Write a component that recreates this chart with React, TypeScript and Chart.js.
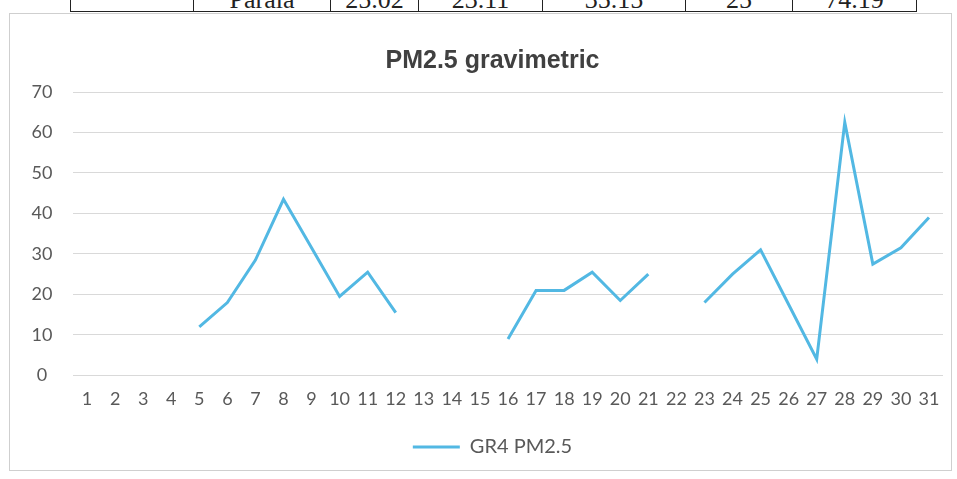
import React, { useEffect, useRef } from "react";
import { Chart, registerables } from "chart.js";

Chart.register(...registerables);

// ---- data ----
const dayLabels = [
  "1", "2", "3", "4", "5", "6", "7", "8", "9", "10",
  "11", "12", "13", "14", "15", "16", "17", "18", "19", "20",
  "21", "22", "23", "24", "25", "26", "27", "28", "29", "30", "31",
];

const gr4Pm25: (number | null)[] = [
  null, null, null, null, 12, 18, 28.5, 43.5, 31.5, 19.5,
  25.5, 15.5, null, null, null, 9, 21, 21, 25.5, 18.5,
  25, null, 18, 25, 31, 17.5, 4, 62.5, 27.5, 31.5, 39,
];

const seriesName = "GR4 PM2.5";
const chartTitle = "PM2.5 gravimetric";
const yMin = 0;
const yMax = 70;
const yStep = 10;

// fragment of the table row above the chart (scanned page)
const tableTexts = ["", "Parala", "25.02", "23.11", "35.15", "25", "74.19"];
const tableEdges = [70, 193, 330, 418, 542, 685, 792, 917];

const LINE_COLOR = "#52b8e3";
const TEXT_COLOR = "#595959";

export default function App() {
  const canvasRef = useRef<HTMLCanvasElement | null>(null);

  useEffect(() => {
    if (!canvasRef.current) return;
    const chart = new Chart(canvasRef.current, {
      type: "line",
      data: {
        labels: dayLabels,
        datasets: [
          {
            label: seriesName,
            data: gr4Pm25,
            borderColor: LINE_COLOR,
            backgroundColor: LINE_COLOR,
            borderWidth: 3,
            pointRadius: 0,
            pointHoverRadius: 0,
            spanGaps: false,
            tension: 0,
          },
        ],
      },
      options: {
        animation: false,
        responsive: false,
        maintainAspectRatio: false,
        layout: { padding: { top: 0, left: 42, right: 14, bottom: 12 } },
        plugins: {
          title: {
            display: true,
            text: chartTitle,
            color: "#404040",
            font: { family: '"Liberation Sans", Arial, sans-serif', size: 25, weight: "bold" },
            padding: { top: 46, bottom: 16 },
          },
          legend: {
            display: true,
            position: "bottom",
            labels: {
              usePointStyle: true,
              pointStyle: "line",
              pointStyleWidth: 47,
              color: TEXT_COLOR,
              font: { family: "Lato", size: 20 },
              padding: 14,
            },
          },
          tooltip: { enabled: false },
        },
        scales: {
          x: {
            offset: true,
            grid: { display: false, drawTicks: false },
            border: { display: false },
            ticks: {
              autoSkip: false,
              maxRotation: 0,
              minRotation: 0,
              padding: 13,
              color: TEXT_COLOR,
              font: { family: "Lato", size: 18 },
            },
          },
          y: {
            min: yMin,
            max: yMax,
            ticks: {
              stepSize: yStep,
              mirror: true,
              padding: -41.5,
              crossAlign: "center",
              color: TEXT_COLOR,
              font: { family: "Lato", size: 18 },
            },
            grid: { color: "#d9d9d9", drawTicks: false },
            border: { display: false },
            afterFit: (s: any) => {
              s.width = 31;
            },
          },
        },
      },
    } as any);
    return () => chart.destroy();
  }, []);

  return (
    <div style={{ position: "absolute", left: 0, top: 0, width: 957, height: 479, background: "#fff", overflow: "hidden" }}>
      <div style={{ position: "absolute", left: 0, top: 0, width: 957, height: 14, overflow: "hidden" }}>
        {tableTexts.map((t, i) => {
          const x1 = tableEdges[i];
          const x2 = tableEdges[i + 1];
          const last = i === tableTexts.length - 1;
          return (
            <div
              key={i}
              style={{
                position: "absolute",
                left: x1,
                width: x2 - x1,
                top: -30,
                height: 42,
                boxSizing: "border-box",
                borderLeft: "1px solid #222",
                borderRight: last ? "1px solid #222" : "none",
                borderBottom: "1px solid #222",
              }}
            >
              <div
                style={{
                  position: "absolute",
                  left: 0,
                  right: 0,
                  top: 17,
                  height: 26,
                  lineHeight: "26px",
                  textAlign: "center",
                  fontFamily: '"Liberation Serif", "Times New Roman", serif',
                  fontSize: 26,
                  color: "#222",
                }}
              >
                {t}
              </div>
            </div>
          );
        })}
      </div>
      <div
        style={{
          position: "absolute",
          left: 9,
          top: 13,
          width: 941,
          height: 456,
          border: "1px solid #cfcfcf",
        }}
      />
      <canvas
        ref={canvasRef}
        width={957}
        height={479}
        style={{ position: "absolute", left: 0, top: 0, width: 957, height: 479 }}
      />
    </div>
  );
}
